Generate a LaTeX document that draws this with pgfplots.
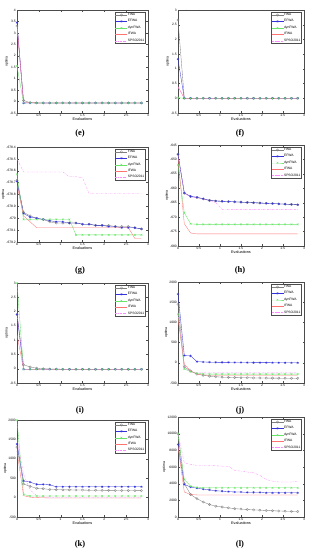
\documentclass[border=0pt]{standalone}
\usepackage{pgfplots}
\pgfplotsset{compat=1.18}
\usepackage{pgfplotstable}
\usepackage{fontspec}
\setmainfont{Liberation Sans}
\newfontfamily\serifb{Liberation Serif}
\definecolor{cfwa}{rgb}{0.5,0.5,0.5}
\definecolor{cefwa}{rgb}{0.2,0.2,0.85}
\definecolor{cdyn}{rgb}{0.4,0.9,0.4}
\definecolor{cifwa}{rgb}{1,0.45,0.45}
\definecolor{cspso}{rgb}{1,0.55,1}

\pgfplotstableread{
x fwa efwa dyn ifwa spso
0 3.3 3.45 1.55 3.35 3.3
0.15 0.05 -0.07 -0.05 -0.05 -0.05
0.3 -0.05 -0.06 -0.05 -0.05 -0.05
0.45 -0.06 -0.06 -0.06 -0.06 -0.06
0.6 -0.06 -0.06 -0.06 -0.06 -0.06
0.75 -0.06 -0.06 -0.06 -0.06 -0.06
0.9 -0.06 -0.06 -0.06 -0.06 -0.06
1.05 -0.06 -0.06 -0.06 -0.06 -0.06
1.2 -0.06 -0.06 -0.06 -0.06 -0.06
1.35 -0.06 -0.06 -0.06 -0.06 -0.06
1.5 -0.06 -0.06 -0.06 -0.06 -0.06
1.65 -0.06 -0.06 -0.06 -0.06 -0.06
1.8 -0.06 -0.06 -0.06 -0.06 -0.06
1.95 -0.06 -0.06 -0.06 -0.06 -0.06
2.1 -0.06 -0.06 -0.06 -0.06 -0.06
2.25 -0.06 -0.06 -0.06 -0.06 -0.06
2.4 -0.06 -0.06 -0.06 -0.06 -0.06
2.55 -0.06 -0.06 -0.06 -0.06 -0.06
2.7 -0.06 -0.06 -0.06 -0.06 -0.06
2.85 -0.06 -0.06 -0.06 -0.06 -0.06
}\te

\pgfplotstableread{
x fwa efwa dyn ifwa spso
0 2.66 1.33 0.02 0.4 0.38
0.15 0 0 0 0 0
0.3 0 0 0 0 0
0.45 0 0 0 0 0
0.6 0 0 0 0 0
0.75 0 0 0 0 0
0.9 0 0 0 0 0
1.05 0 0 0 0 0
1.2 0 0 0 0 0
1.35 0 0 0 0 0
1.5 0 0 0 0 0
1.65 0 0 0 0 0
1.8 0 0 0 0 0
1.95 0 0 0 0 0
2.1 0 0 0 0 0
2.25 0 0 0 0 0
2.4 0 0 0 0 0
2.55 0 0 0 0 0
2.7 0 0 0 0 0
2.85 0 0 0 0 0
}\tf

\pgfplotstableread{
x fwa efwa dyn ifwa spso
0 -678.68 -678.69 -678.63 -678.72 -678.50
0.15 -678.95 -678.96 -679.01 -678.98 -678.61
0.3 -678.98 -678.99 -679.01 -679.03 -678.61
0.45 -679.00 -679.00 -679.01 -679.08 -678.61
0.6 -679.01 -679.01 -679.01 -679.08 -678.61
0.75 -679.03 -679.02 -679.01 -679.08 -678.61
0.9 -679.04 -679.03 -679.01 -679.08 -678.61
1.05 -679.04 -679.03 -679.01 -679.08 -678.61
1.2 -679.04 -679.04 -679.01 -679.08 -678.65
1.35 -679.04 -679.04 -679.14 -679.08 -678.65
1.5 -679.05 -679.05 -679.14 -679.08 -678.66
1.65 -679.05 -679.05 -679.14 -679.08 -678.79
1.8 -679.06 -679.06 -679.14 -679.08 -678.79
1.95 -679.06 -679.06 -679.14 -679.08 -678.79
2.1 -679.06 -679.07 -679.14 -679.08 -678.79
2.25 -679.07 -679.07 -679.14 -679.08 -678.79
2.4 -679.07 -679.08 -679.14 -679.08 -678.79
2.55 -679.07 -679.08 -679.14 -679.08 -678.79
2.7 -679.08 -679.08 -679.14 -679.17 -678.79
2.85 -679.09 -679.09 -679.14 -679.17 -678.79
}\tg

\pgfplotstableread{
x fwa efwa dyn ifwa spso
0 -648.3 -648.2 -652 -649.6 -648.5
0.15 -661.7 -661.6 -668.5 -672.3 -661.8
0.3 -662.9 -662.8 -672.3 -675.5 -662.9
0.45 -663.2 -663.1 -672.5 -675.8 -663.3
0.6 -663.7 -663.6 -672.5 -675.8 -663.8
0.75 -664.2 -664.2 -672.5 -675.8 -664.3
0.9 -664.4 -664.4 -672.5 -675.8 -665.0
1.05 -664.5 -664.5 -672.5 -675.8 -667.3
1.2 -664.6 -664.6 -672.5 -675.8 -667.4
1.35 -664.7 -664.7 -672.5 -675.8 -667.4
1.5 -664.8 -664.8 -672.5 -675.8 -667.4
1.65 -664.9 -664.9 -672.5 -675.8 -667.4
1.8 -665.0 -665.0 -672.5 -675.8 -667.4
1.95 -665.1 -665.1 -672.5 -675.8 -667.4
2.1 -665.2 -665.2 -672.5 -675.8 -667.4
2.25 -665.3 -665.3 -672.5 -675.8 -667.4
2.4 -665.4 -665.4 -672.5 -675.8 -667.4
2.55 -665.5 -665.5 -672.5 -675.8 -667.4
2.7 -665.6 -665.6 -672.5 -675.8 -667.4
2.85 -665.7 -665.7 -672.5 -675.8 -667.4
}\th

\pgfplotstableread{
x fwa efwa dyn ifwa spso
0 1.9 1.9 3.0 1.2 1.95
0.15 0.14 -0.02 -0.02 -0.02 -0.02
0.3 0.06 -0.02 -0.02 -0.02 -0.02
0.45 0.02 -0.02 -0.02 -0.02 -0.02
0.6 0.0 -0.02 -0.02 -0.02 -0.02
0.75 -0.01 -0.02 -0.02 -0.02 -0.02
0.9 -0.01 -0.02 -0.02 -0.02 -0.02
1.05 -0.02 -0.02 -0.02 -0.02 -0.02
1.2 -0.02 -0.02 -0.02 -0.02 -0.02
1.35 -0.02 -0.02 -0.02 -0.02 -0.02
1.5 -0.02 -0.02 -0.02 -0.02 -0.02
1.65 -0.02 -0.02 -0.02 -0.02 -0.02
1.8 -0.02 -0.02 -0.02 -0.02 -0.02
1.95 -0.02 -0.02 -0.02 -0.02 -0.02
2.1 -0.02 -0.02 -0.02 -0.02 -0.02
2.25 -0.02 -0.02 -0.02 -0.02 -0.02
2.4 -0.02 -0.02 -0.02 -0.02 -0.02
2.55 -0.02 -0.02 -0.02 -0.02 -0.02
2.7 -0.02 -0.02 -0.02 -0.02 -0.02
2.85 -0.02 -0.02 -0.02 -0.02 -0.02
}\ti

\pgfplotstableread{
x fwa efwa dyn ifwa spso
0 1450 1700 1200 1100 1250
0.15 -100 180 -150 -30 -100
0.3 -200 170 -220 -200 -230
0.45 -280 30 -260 -280 -250
0.6 -310 20 -275 -300 -250
0.75 -330 15 -280 -310 -250
0.9 -345 12 -280 -310 -250
1.05 -355 10 -280 -310 -250
1.2 -360 10 -280 -310 -250
1.35 -365 8 -280 -310 -250
1.5 -370 8 -280 -310 -250
1.65 -370 6 -280 -310 -250
1.8 -375 5 -280 -310 -250
1.95 -375 5 -280 -310 -250
2.1 -378 4 -280 -310 -250
2.25 -380 3 -280 -310 -250
2.4 -380 2 -280 -310 -250
2.55 -382 1 -280 -310 -250
2.7 -383 0 -280 -310 -250
2.85 -385 0 -280 -310 -250
}\tj

\pgfplotstableread{
x fwa efwa dyn ifwa spso
0 1300 1380 2000 1200 1500
0.15 350 430 80 50 600
0.3 290 400 40 10 200
0.45 240 340 40 0 50
0.6 230 340 40 -5 20
0.75 210 330 40 -10 10
0.9 205 280 40 -10 10
1.05 200 280 40 -10 10
1.2 200 280 40 -10 10
1.35 195 280 40 -10 10
1.5 195 280 40 -10 10
1.65 190 280 40 -10 10
1.8 190 280 40 -10 10
1.95 188 280 40 -10 10
2.1 186 280 40 -10 10
2.25 185 280 40 -10 10
2.4 184 280 40 -10 10
2.55 182 280 40 -10 10
2.7 181 280 40 -10 10
2.85 180 280 40 -10 10
}\tk

\pgfplotstableread{
x fwa efwa dyn ifwa spso
0 10000 8700 10000 8500 10000
0.15 4000 3900 4500 3000 6500
0.3 2700 3600 3700 2700 6300
0.45 2200 3450 3550 2650 6200
0.6 1800 3350 3500 2650 6200
0.75 1500 3250 3500 2650 6200
0.9 1300 3150 3500 2650 6150
1.05 1200 3100 3500 2650 6100
1.2 1100 3050 3500 2650 6100
1.35 1000 3000 3500 2650 5600
1.5 950 3000 3500 2650 5500
1.65 900 2950 3500 2650 5400
1.8 850 2950 3500 2650 5300
1.95 820 2950 3500 2650 5000
2.1 780 2900 3500 2650 4500
2.25 750 2900 3500 2650 4300
2.4 720 2900 3500 2650 4200
2.55 700 2900 3500 2650 4200
2.7 680 2900 3500 2650 4200
2.85 650 2900 3500 2650 4300
}\tl

\pgfplotsset{
 panel/.style={
  scale only axis, anchor=south west,
  xmin=0, xmax=3, xtick={0,0.5,1,1.5,2,2.5,3},
  tick align=inside, tick pos=both, major tick length=1.5pt,
  scaled ticks=false,
  /pgf/number format/1000 sep={},
  /pgf/number format/assume math mode=true,
  ticklabel style={font=\fontsize{3.3}{3.5}\selectfont, inner sep=1pt},
  xlabel={Evaluations}, ylabel={optima},
  xlabel style={font=\fontsize{3.8}{4}\selectfont, inner sep=0.5pt},
  ylabel style={font=\fontsize{3.5}{4}\selectfont, inner sep=0.5pt},
  axis line style={line width=0.3pt, black!70},
  every tick/.style={line width=0.25pt, black!70},
  every axis plot/.append style={line width=0.33pt},
  legend style={at={(0.98,0.98)}, anchor=north east, font=\fontsize{3.3}{3.6}\selectfont,
    draw=black!70, line width=0.25pt, inner sep=0.6pt, row sep=1.8pt,
    nodes={inner sep=0.4pt}},
  legend cell align=left,
  legend image code/.code={\draw[mark repeat=2,mark phase=2,##1] plot coordinates {(0pt,0pt) (6pt,0pt) (12pt,0pt)};},
  legend entries={FWA,EFWA,dynFWA,IFWA,SPSO2011},
 },
 sfwa/.style={color=cfwa, mark=o, mark size=1.2pt, mark options={solid, line width=0.3pt}},
 sefwa/.style={color=cefwa, mark=asterisk, mark size=1.2pt, mark options={solid, line width=0.3pt}},
 sdyn/.style={color=cdyn, mark=x, mark size=1.2pt, mark options={solid, line width=0.35pt}},
 sifwa/.style={color=cifwa, no marks},
 sspso/.style={color=cspso, dash pattern=on 2pt off 1pt on 0.5pt off 1pt, no marks},
}
\newcommand{\fiveplots}[1]{%
 \addplot[sfwa] table[x=x,y=fwa]{#1};
 \addplot[sefwa] table[x=x,y=efwa]{#1};
 \addplot[sdyn] table[x=x,y=dyn]{#1};
 \addplot[sifwa] table[x=x,y=ifwa]{#1};
 \addplot[sspso] table[x=x,y=spso]{#1};
 \node[anchor=north east, font=\fontsize{3.3}{3.5}\selectfont, inner sep=0pt] at ([yshift=-7pt]rel axis cs:1,0) {x $10^{5}$};
}
\newcommand{\yexp}[1]{\node[anchor=south west, font=\fontsize{3.3}{3.5}\selectfont, inner sep=0.5pt] at (rel axis cs:0,1) {x $10^{#1}$};}

\begin{document}
\begin{tikzpicture}
\path[use as bounding box] (0,0) rectangle (313pt,550pt);
% (e)
\begin{axis}[panel, at={(17pt,437pt)}, width=131pt, height=103pt, ymin=-0.5, ymax=4, ytick={-0.5,0,0.5,1,1.5,2,2.5,3,3.5,4}]
\fiveplots{\te}
\yexp{4}
\end{axis}
% (f)
\begin{axis}[panel, at={(178pt,437pt)}, width=126pt, height=103pt, ymin=-0.5, ymax=3, ytick={-0.5,0,0.5,1,1.5,2,2.5,3}]
\fiveplots{\tf}
\yexp{4}
\end{axis}
% (g)
\begin{axis}[panel, at={(17pt,308pt)}, width=131pt, height=95pt, ymin=-679.2, ymax=-678.4, ytick={-679.2,-679.1,-679,-678.9,-678.8,-678.7,-678.6,-678.5,-678.4}, yticklabel style={/pgf/number format/fixed}]
\fiveplots{\tg}
\end{axis}
% (h)
\begin{axis}[panel, at={(178pt,304pt)}, width=126pt, height=101pt, ymin=-680, ymax=-645, ytick={-680,-675,-670,-665,-660,-655,-650,-645}]
\fiveplots{\th}
\end{axis}
% (i)
\begin{axis}[panel, at={(17pt,167pt)}, width=131pt, height=100pt, ymin=-0.5, ymax=3, ytick={-0.5,0,0.5,1,1.5,2,2.5,3}]
\fiveplots{\ti}
\yexp{4}
\end{axis}
% (j)
\begin{axis}[panel, at={(178pt,167pt)}, width=126pt, height=101pt, ymin=-500, ymax=2000, ytick={-500,0,500,1000,1500,2000}]
\fiveplots{\tj}
\end{axis}
% (k)
\begin{axis}[panel, at={(17pt,33pt)}, width=131pt, height=97pt, ymin=-500, ymax=2000, ytick={-500,0,500,1000,1500,2000}]
\fiveplots{\tk}
\end{axis}
% (l)
\begin{axis}[panel, at={(178pt,33pt)}, width=126pt, height=100pt, ymin=0, ymax=12000, ytick={0,2000,4000,6000,8000,10000,12000}]
\fiveplots{\tl}
\end{axis}
\begin{scope}[every node/.style={font=\serifb\bfseries\fontsize{8.5}{9}\selectfont}]
\node at (80pt,417pt) {(e)};
\node at (240pt,417pt) {(f)};
\node at (80pt,280pt) {(g)};
\node at (240pt,280pt) {(h)};
\node at (80pt,140pt) {(i)};
\node at (240pt,140pt) {(j)};
\node at (80pt,6pt) {(k)};
\node at (240pt,6pt) {(l)};
\end{scope}
\end{tikzpicture}
\end{document}
